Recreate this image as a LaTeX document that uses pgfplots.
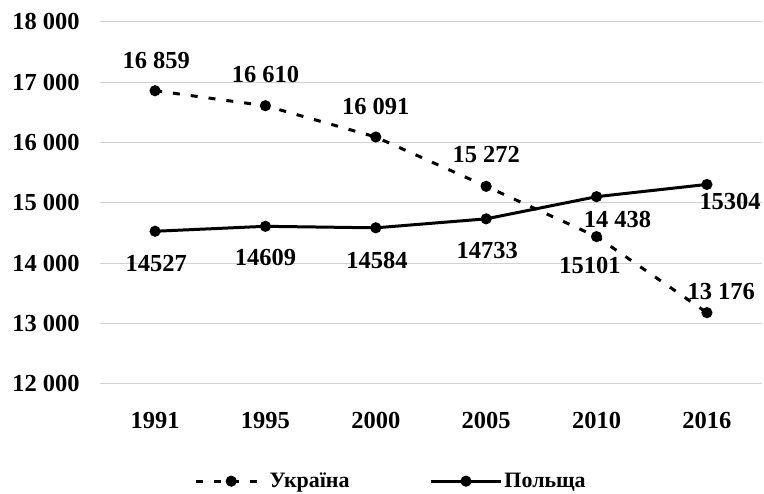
\documentclass[border=0pt]{standalone}
\usepackage{fontspec}
\setmainfont{Liberation Serif}
\usepackage{pgfplots}
\pgfplotsset{compat=1.18}
\definecolor{gridgray}{RGB}{210,210,210}
\begin{document}
\begin{tikzpicture}[font=\fontsize{24.5}{28}\selectfont\bfseries]
\begin{axis}[
  scale only axis,
  width=663pt, height=362pt,
  xmin=-0.5, xmax=5.5,
  ymin=12000, ymax=18000,
  scaled y ticks=false,
  axis line style={draw=none},
  major tick length=0pt,
  xtick={0,1,2,3,4,5},
  xticklabels={1991,1995,2000,2005,2010,2016},
  ytick={12000,13000,14000,15000,16000,17000,18000},
  yticklabels={12 000,13 000,14 000,15 000,16 000,17 000,18 000},
  ymajorgrids,
  grid style={gridgray, line width=1pt},
  yticklabel style={inner sep=0pt, anchor=east, xshift=-20pt, font=\fontsize{24.5}{28}\selectfont\bfseries},
  xticklabel style={inner sep=0pt, anchor=north, yshift=-29pt, font=\fontsize{24.5}{28}\selectfont\bfseries},
  legend style={at={(0.44,-0.27)}, anchor=center, draw=none, fill=none,
    legend columns=2, font=\fontsize{22}{26}\selectfont\bfseries,
    /tikz/every even column/.append style={column sep=78pt}},
  legend image code/.code={\draw[mark repeat=2,mark phase=2,#1] plot coordinates {(0pt,0pt) (35pt,0pt) (70pt,0pt)};},
  clip=false,
]
\addplot[black, line width=3pt, dash pattern=on 7pt off 11pt, mark=*, mark size=4pt, mark options={solid}]
  coordinates {(0,16859) (1,16610) (2,16091) (3,15272) (4,14438) (5,13176)};
\addlegendentry{Україна}
\addplot[black, line width=3pt, mark=*, mark size=4pt]
  coordinates {(0,14527) (1,14609) (2,14584) (3,14733) (4,15101) (5,15304)};
\addlegendentry{Польща}
\node at (axis cs:0.01,17362) {16 859};
\node at (axis cs:1.0,17121) {16 610};
\node at (axis cs:2.0,16590) {16 091};
\node at (axis cs:3.0,15794) {15 272};
\node at (axis cs:4.19,14716) {14 438};
\node at (axis cs:5.13,13522) {13 176};
\node at (axis cs:5.21,15015) {15304};
\node at (axis cs:3.94,13954) {15101};
\node at (axis cs:0.01,13987) {14527};
\node at (axis cs:1.0,14086) {14609};
\node at (axis cs:2.01,14036) {14584};
\node at (axis cs:3.01,14202) {14733};
\end{axis}
\path ([xshift=-100pt,yshift=-106pt]current axis.south west) rectangle ([xshift=1pt,yshift=22pt]current axis.north east);
\end{tikzpicture}
\end{document}
